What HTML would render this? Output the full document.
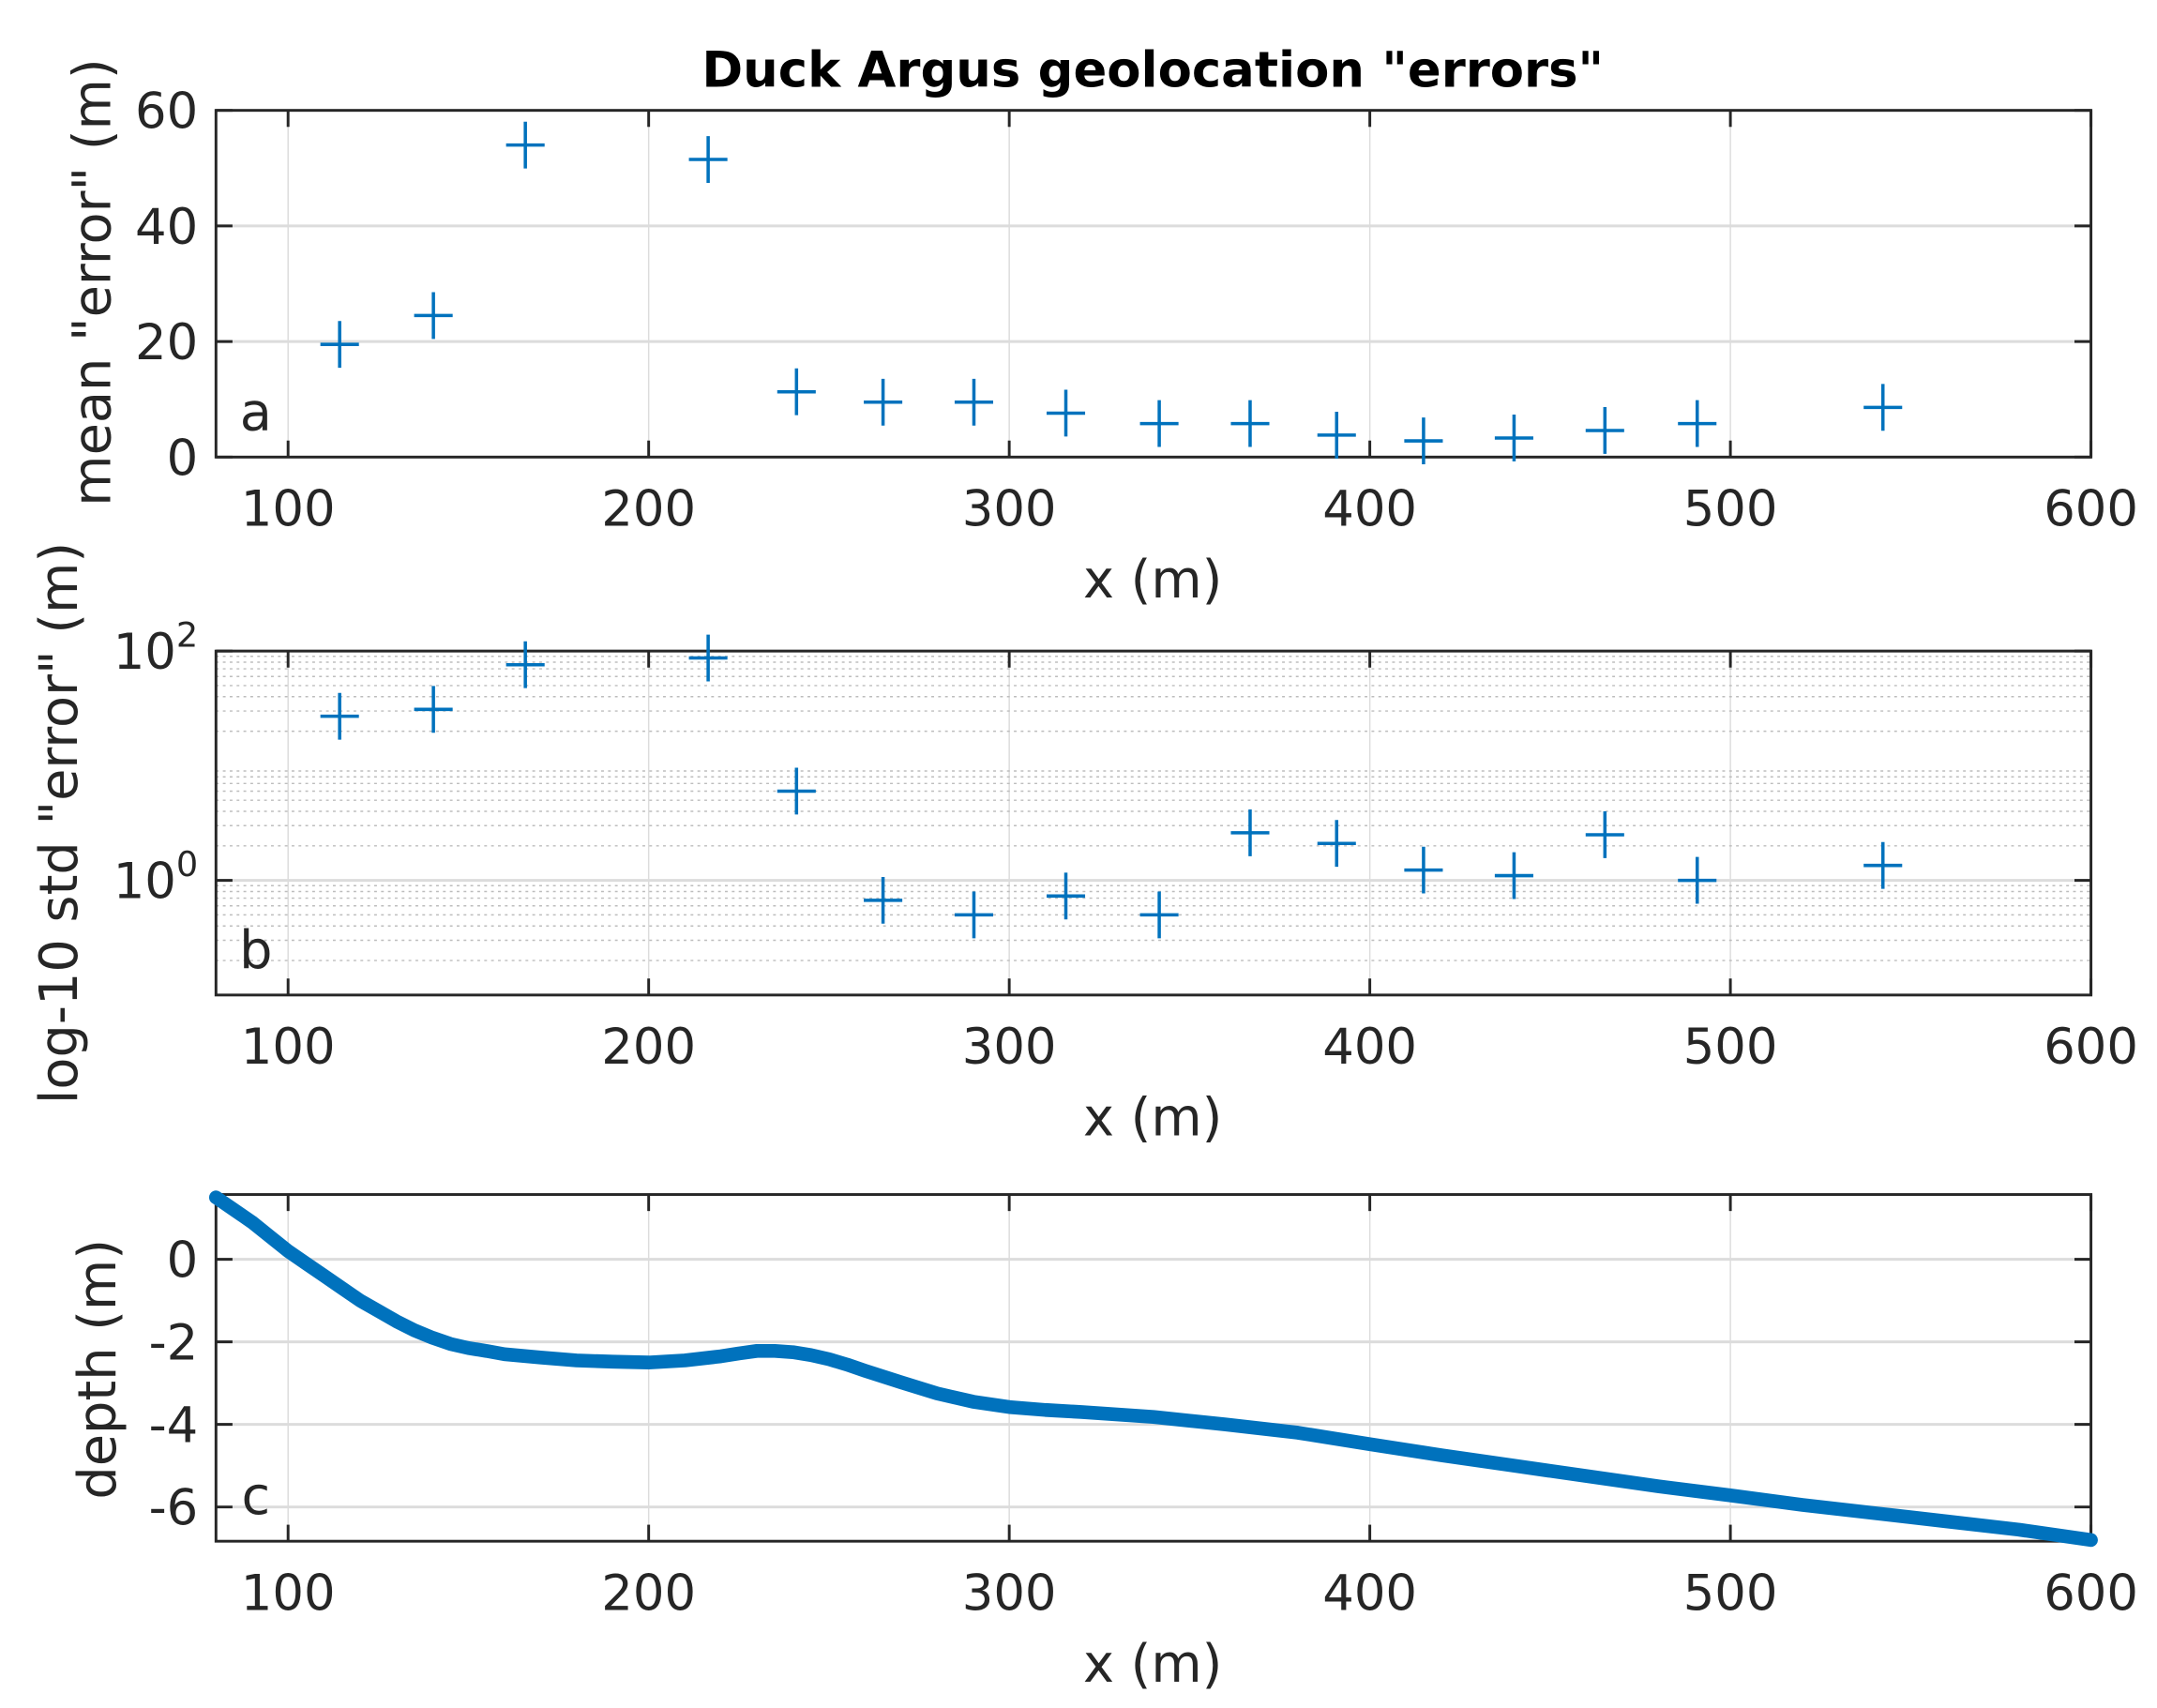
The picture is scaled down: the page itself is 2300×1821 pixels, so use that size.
<!DOCTYPE html>
<html><head><meta charset="utf-8"><style>
html,body{margin:0;padding:0;background:#fff}
svg{display:block}
text{font-family:"DejaVu Sans","Liberation Sans",sans-serif;fill:#262626}
</style></head><body>
<svg id="fig" width="2300" height="1821" viewBox="0 0 1568 1241" xmlns="http://www.w3.org/2000/svg">
<rect width="1568" height="1241" fill="#fff"/>
<text x="838" y="63" text-anchor="middle" font-size="36" font-weight="bold" style="fill:#000">Duck Argus  geolocation "errors"</text>
<g id="pa"></g>
<g id="pb"></g>
<g id="pc"></g>
</svg>
<script>
const xPts = [114.3,140.3,165.8,216.5,241,265,290.2,315.7,341.6,366.8,390.8,414.9,440,465.2,490.8,542.3];
const meanErr = [19.5,24.5,54,51.5,11.3,9.5,9.5,7.6,5.8,5.8,3.8,2.8,3.3,4.6,5.8,8.6];
const stdErr = [27,31,76,87,6,0.67,0.5,0.73,0.5,2.6,2.1,1.23,1.1,2.5,1.0,1.35];
const depthX = [80,85,90,95,100,105,110,115,120,125,130,135,140,145,150,155,160,170,180,190,200,210,220,225,230,235,240,245,250,255,260,270,280,290,300,310,320,340,360,380,400,420,440,460,480,500,520,540,560,580,600];
const depthY = [1.5,1.2,0.9,0.55,0.2,-0.1,-0.4,-0.7,-1.0,-1.25,-1.5,-1.72,-1.9,-2.05,-2.15,-2.22,-2.3,-2.38,-2.45,-2.48,-2.5,-2.45,-2.35,-2.28,-2.22,-2.22,-2.25,-2.32,-2.42,-2.55,-2.7,-2.98,-3.25,-3.45,-3.58,-3.65,-3.7,-3.82,-4.0,-4.2,-4.48,-4.75,-5.0,-5.25,-5.5,-5.72,-5.95,-6.15,-6.35,-6.55,-6.8];
const xTicks = [100,200,300,400,500,600];
const aTicks = [0,20,40,60];
const cTicks = [0,-2,-4,-6];

const NS='http://www.w3.org/2000/svg';
const L=157,R=1520,XMIN=80,XMAX=600,BLUE='#0072BD';
const sx=v=>L+(v-XMIN)/(XMAX-XMIN)*(R-L);
function mk(tag,attrs,parent){const e=document.createElementNS(NS,tag);for(const k in attrs)e.setAttribute(k,attrs[k]);parent.appendChild(e);return e;}
function txt(parent,x,y,s,size,anchor){const t=mk('text',{x:x,y:y,'font-size':size,'text-anchor':anchor||'middle'},parent);t.textContent=s;return t;}

function frame(g,T,B,sy,yticks,ylab,ylabX,ylabY,letter,minor){
  xTicks.forEach(v=>{const l=mk('line',{x1:sx(v),x2:sx(v),y1:T,y2:B,stroke:'#dcdcdc','stroke-width':1},g);
    
    });
  if(minor){minor.forEach(v=>{const l=mk('line',{x1:L,x2:R,y1:sy(v),y2:sy(v),stroke:'#bdbdbd','stroke-width':1,'stroke-dasharray':'2,3'},g);
    
    });}
  yticks.forEach(t=>{const l=mk('line',{x1:L,x2:R,y1:sy(t.v),y2:sy(t.v),stroke:'#dcdcdc','stroke-width':2},g);
    
    });
  mk('rect',{x:L,y:T,width:R-L,height:B-T,fill:'none',stroke:'#262626','stroke-width':2},g);
  xTicks.forEach(v=>{mk('line',{x1:sx(v),x2:sx(v),y1:B,y2:B-12,stroke:'#262626','stroke-width':2},g);mk('line',{x1:sx(v),x2:sx(v),y1:T,y2:T+12,stroke:'#262626','stroke-width':2},g);
    const t=txt(g,sx(v),B+50,String(v),36);
    
    });
  yticks.forEach(t=>{mk('line',{x1:L,x2:L+12,y1:sy(t.v),y2:sy(t.v),stroke:'#262626','stroke-width':2},g);mk('line',{x1:R,x2:R-12,y1:sy(t.v),y2:sy(t.v),stroke:'#262626','stroke-width':2},g);
    const e=mk('text',{x:144,y:sy(t.v)+13,'font-size':36,'text-anchor':'end'},g);
    if(t.exp!==undefined){e.textContent='10';const s=mk('tspan',{dy:-16,'font-size':25},e);s.textContent=t.exp;}else e.textContent=String(t.v);
    
    });
  const xl=txt(g,838,B+102,'x (m)',38);
  
  
  const yl=mk('text',{x:0,y:0,'font-size':38,'text-anchor':'middle',transform:`translate(${ylabX},${ylabY}) rotate(-90)`},g);yl.textContent=ylab;
  
  
  const pl=txt(g,186,(B-T)*0.87+T+13,letter,38);
  
  
}
function plus(g,x,y){const p=mk('path',{d:`M${x-14},${y}H${x+14}M${x},${y-17}V${y+17}`,stroke:BLUE,'stroke-width':2.4,fill:'none'},g);
  
  }

{const g=document.getElementById('pa');const T=80,B=332;const sy=v=>B-(v-0)/60*(B-T);
 frame(g,T,B,sy,aTicks.map(v=>({v})),'mean "error" (m)',80,205,'a');
 xPts.forEach((x,i)=>plus(g,sx(x),sy(meanErr[i])));}
{const g=document.getElementById('pb');const T=473,B=723;const sy=v=>B-(Math.log10(v)+1)/3*(B-T);
 const minor=[];[0.1,1,10].forEach(d=>{for(let k=2;k<=9;k++)minor.push(d*k);});
 frame(g,T,B,sy,[{v:1,exp:'0'},{v:100,exp:'2'}],'log-10 std "error" (m)',56,598,'b',minor);
 xPts.forEach((x,i)=>plus(g,sx(x),sy(stdErr[i])));}
{const g=document.getElementById('pc');const T=868,B=1120;const top=1.57,bot=-6.83;const sy=v=>T+(top-v)/(top-bot)*(B-T);
 frame(g,T,B,sy,cTicks.map(v=>({v})),'depth (m)',84,995,'c');
 const pts=depthX.map((x,i)=>sx(x).toFixed(1)+','+sy(depthY[i]).toFixed(1)).join(' ');
 const pl=mk('polyline',{points:pts,fill:'none',stroke:BLUE,'stroke-width':10,'stroke-linejoin':'round','stroke-linecap':'round'},g);
 
 }
</script>
</body></html>
